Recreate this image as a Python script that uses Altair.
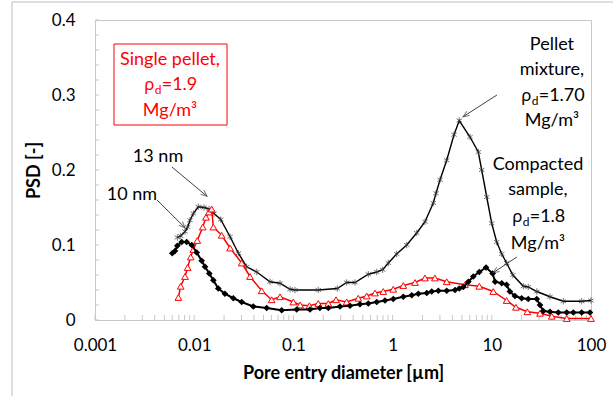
import math
import altair as alt
import pandas as pd

W, H = 496, 300
XMIN, XMAX = 0.001, 100
YMAX = 0.4
FONT = "Lato"

# ---- data ----
# Pellet mixture, rho_d = 1.70 Mg/m3 (black line, asterisks)
pm_d = [0.00676, 0.00731, 0.00808, 0.00859, 0.00907, 0.00980, 0.0110, 0.01256, 0.0141, 0.01585,
        0.0185, 0.0230, 0.0279, 0.0338, 0.0427, 0.0581, 0.0733, 0.0925, 0.1038, 0.178,
        0.277, 0.344, 0.418, 0.569, 0.692, 0.794, 0.906, 1.099, 1.387, 1.750,
        2.123, 2.57, 2.74, 3.01, 3.51, 4.16, 4.70, 6.03, 7.31, 7.91,
        8.89, 9.98, 11.2, 12.6, 14.1, 16.3, 20.8, 23.3, 28.4, 38.6,
        52.6, 80.5, 100]
pm_v = [0.110, 0.112, 0.118, 0.124, 0.133, 0.142, 0.151, 0.150, 0.148, 0.142,
        0.134, 0.111, 0.089, 0.071, 0.064, 0.051, 0.049, 0.041, 0.040, 0.040,
        0.042, 0.050, 0.050, 0.061, 0.064, 0.067, 0.076, 0.088, 0.100, 0.116,
        0.131, 0.156, 0.169, 0.187, 0.213, 0.247, 0.266, 0.244, 0.224, 0.200,
        0.164, 0.129, 0.104, 0.088, 0.076, 0.060, 0.045, 0.044, 0.038, 0.031,
        0.025, 0.025, 0.026]

# Single pellet, rho_d = 1.9 Mg/m3 (red line, open triangles)
sp_d = [0.00692, 0.00731, 0.00808, 0.00859, 0.00922, 0.00980, 0.01074, 0.0122, 0.01315, 0.0141,
        0.0150, 0.0156, 0.0189, 0.0230, 0.0301, 0.0365, 0.0479, 0.0604, 0.0733, 0.0998,
        0.117, 0.145, 0.178, 0.225, 0.269, 0.344, 0.451, 0.548, 0.665, 0.806,
        1.016, 1.282, 1.682, 2.12, 2.67, 3.51, 5.37, 7.48, 10.35, 14.1,
        17.5, 22.8, 30.6, 40.2, 56.9, 100]
sp_v = [0.030, 0.045, 0.058, 0.070, 0.084, 0.094, 0.106, 0.124, 0.137, 0.144,
        0.148, 0.124, 0.113, 0.096, 0.076, 0.058, 0.039, 0.027, 0.031, 0.024,
        0.020, 0.019, 0.022, 0.022, 0.027, 0.024, 0.029, 0.032, 0.036, 0.038,
        0.041, 0.046, 0.050, 0.056, 0.056, 0.051, 0.047, 0.045, 0.038, 0.026,
        0.017, 0.011, 0.009, 0.005, 0.002, 0.002]

# Compacted sample, rho_d = 1.8 Mg/m3 (thick black line, diamonds)
cs_d = [0.00601, 0.00640, 0.00676, 0.00748, 0.00840, 0.00944, 0.0106, 0.0119, 0.01285, 0.0142,
        0.0156, 0.0175, 0.0204, 0.0248, 0.0301, 0.0394, 0.0538, 0.0762, 0.108, 0.147,
        0.185, 0.225, 0.295, 0.372, 0.469, 0.569, 0.692, 0.838, 1.016, 1.282,
        1.559, 1.816, 2.21, 2.48, 2.89, 3.51, 4.26, 4.70, 5.16, 5.80,
        6.51, 7.48, 8.75, 10.2, 10.8, 12.6, 14.1, 15.2, 17.1, 20.0,
        23.3, 28.4, 30.6, 33.0, 38.6, 46.8, 56.9, 66.4, 80.5, 97.7]
cs_v = [0.089, 0.092, 0.099, 0.104, 0.104, 0.100, 0.090, 0.079, 0.071, 0.062,
        0.053, 0.042, 0.035, 0.029, 0.024, 0.018, 0.016, 0.013, 0.014, 0.014,
        0.016, 0.016, 0.018, 0.019, 0.021, 0.022, 0.024, 0.026, 0.028, 0.031,
        0.033, 0.035, 0.036, 0.038, 0.039, 0.039, 0.040, 0.042, 0.044, 0.051,
        0.058, 0.064, 0.070, 0.062, 0.051, 0.049, 0.047, 0.038, 0.032, 0.029,
        0.028, 0.028, 0.020, 0.012, 0.011, 0.010, 0.010, 0.010, 0.010, 0.010]

x_ticks = [0.001, 0.01, 0.1, 1, 10, 100]
y_ticks = [0, 0.1, 0.2, 0.3, 0.4]

# ---- helpers (layout) ----
PPD = W / math.log10(XMAX / XMIN)
PPV = H / YMAX


def xpx(d):
    return (math.log10(d) - math.log10(XMIN)) * PPD


def ypx(v):
    return H - v * PPV


def sx(d, px):
    return d * 10 ** (px / PPD)


def sy(v, px):
    return v - px / PPV


xs = alt.Scale(type="log", domain=[XMIN, XMAX])
ys = alt.Scale(domain=[0, YMAX])

X_AXIS = alt.Axis(
    values=x_ticks, format="~g", ticks=False, grid=False, labelFlush=False,
    domainColor="#c8c8c8", labelFontSize=17, labelFont=FONT, labelColor="black",
    labelPadding=17, title="Pore entry diameter [µm]", titleFont=FONT,
    titleFontSize=18, titleFontWeight="bold", titleColor="black", titlePadding=11)
Y_AXIS = alt.Axis(
    values=y_ticks, format="~g", ticks=False, grid=False,
    domainColor="#c8c8c8", labelFontSize=17, labelFont=FONT, labelColor="black",
    labelPadding=20, title="PSD [-]", titleFont=FONT, titleFontSize=18,
    titleFontWeight="bold", titleColor="black", titlePadding=8)


def XF(field="d"):
    return alt.X(f"{field}:Q", scale=xs, axis=X_AXIS)


def YF(field="v"):
    return alt.Y(f"{field}:Q", scale=ys, axis=Y_AXIS)


pm = pd.DataFrame({"d": pm_d, "v": pm_v})
sp = pd.DataFrame({"d": sp_d, "v": sp_v})
cs = pd.DataFrame({"d": cs_d, "v": cs_v})

# inner ticks
minor_y = pd.DataFrame({"v": [round(i * 0.02, 2) for i in range(0, 21)]})
minor_x = pd.DataFrame({"d": [m * 10 ** k for k in range(-3, 2) for m in range(1, 10)] + [100]})
tick_y = alt.Chart(minor_y).mark_rule(color="#c8c8c8").encode(
    y=YF(), x=alt.value(0), x2=alt.value(4))
tick_x = alt.Chart(minor_x).mark_rule(color="#c8c8c8").encode(
    x=XF(), y=alt.value(H), y2=alt.value(H - 5))

STAR = "M0,-1L0,1M-0.85,-0.55L0.85,0.55M-0.85,0.55L0.85,-0.55"

l_pm = alt.Chart(pm).mark_line(color="black", strokeWidth=1.4).encode(x=XF(), y=YF())
p_pm = alt.Chart(pm).mark_point(shape=STAR, size=40, color="#3a3a3a", strokeWidth=1,
                                filled=False).encode(x=XF(), y=YF())
l_sp = alt.Chart(sp).mark_line(color="#ff0000", strokeWidth=1.5).encode(x=XF(), y=YF())
p_sp = alt.Chart(sp).mark_point(shape="triangle-up", size=45, color="#ff0000",
                                strokeWidth=1, filled=False, fill="white",
                                fillOpacity=1).encode(x=XF(), y=YF())
l_cs = alt.Chart(cs).mark_line(color="black", strokeWidth=2).encode(x=XF(), y=YF())
p_cs = alt.Chart(cs).mark_point(shape="diamond", size=45, color="black",
                                filled=True, opacity=1).encode(x=XF(), y=YF())

# ---- annotations ----
box = alt.Chart(pd.DataFrame({"d": [0.001554], "d2": [0.02143], "v": [0.368], "v2": [0.260]})).mark_rect(
    fill="white", stroke="#ff0000", strokeWidth=1).encode(
    x=XF(), x2="d2:Q", y=YF(), y2="v2:Q")

ann_text = ["13 nm", "10 nm", "Single pellet,", "Mg/m³", "Pellet", "mixture,", "Mg/m³",
            "Compacted", "sample,", "Mg/m³"]
ann_d = [0.00432, 0.00236, 0.0057, 0.0057, 40.4, 40.4, 40.4, 29.2, 29.2, 29.2]
ann_v = [0.217, 0.167, 0.347, 0.279, 0.367, 0.333, 0.265, 0.207, 0.173, 0.102]
ann_c = ["black", "black", "#ff0000", "#ff0000", "black", "black", "black", "black", "black", "black"]
ann = pd.DataFrame({"t": ann_text, "d": ann_d, "v": ann_v, "c": ann_c})
t_ann = alt.Chart(ann).mark_text(font=FONT, fontSize=18, align="center", baseline="middle").encode(
    x=XF(), y=YF(), text="t:N", color=alt.Color("c:N", scale=None))

# rho_d lines: rho + subscript d + rest
rho_rest = ["=1.9", "=1.70", "=1.8"]
rho_d = [0.0057, 40.4, 29.2]
rho_v = [0.313, 0.299, 0.138]
rho_c = ["#ff0000", "black", "black"]
W_RHO, W_SUB = 10.5, 7.0
W_REST = {"=1.9": 34.0, "=1.70": 44.0, "=1.8": 34.0}
rows_rho, rows_sub, rows_rest = [], [], []
for t, d, v, c in zip(rho_rest, rho_d, rho_v, rho_c):
    total = W_RHO + W_SUB + W_REST[t]
    start = -total / 2
    rows_rho.append({"t": "ρ", "d": sx(d, start), "v": v, "c": c})
    rows_sub.append({"t": "d", "d": sx(d, start + W_RHO), "v": sy(v, 5), "c": c})
    rows_rest.append({"t": t, "d": sx(d, start + W_RHO + W_SUB), "v": v, "c": c})
t_rho = alt.Chart(pd.DataFrame(rows_rho)).mark_text(font="Noto Sans", fontSize=17, align="left",
                                                     baseline="middle").encode(
    x=XF(), y=YF(), text="t:N", color=alt.Color("c:N", scale=None))
t_sub = alt.Chart(pd.DataFrame(rows_sub)).mark_text(font=FONT, fontSize=12, align="left",
                                                     baseline="middle").encode(
    x=XF(), y=YF(), text="t:N", color=alt.Color("c:N", scale=None))
t_rest = alt.Chart(pd.DataFrame(rows_rest)).mark_text(font=FONT, fontSize=18, align="left",
                                                       baseline="middle").encode(
    x=XF(), y=YF(), text="t:N", color=alt.Color("c:N", scale=None))

# arrows (start -> end, in data units)
arr_d0 = [0.00597, 0.00422, 11.27, 17.9]
arr_v0 = [0.204, 0.160, 0.300, 0.084]
arr_d1 = [0.01346, 0.00808, 5.13, 10.3]
arr_v1 = [0.165, 0.123, 0.271, 0.063]
ang = []
for a0, b0, a1, b1 in zip(arr_d0, arr_v0, arr_d1, arr_v1):
    dx = xpx(a1) - xpx(a0)
    dy = ypx(b1) - ypx(b0)
    ang.append(math.degrees(math.atan2(dx, -dy)) % 360)
arr = pd.DataFrame({"d": arr_d0, "v": arr_v0, "d2": arr_d1, "v2": arr_v1, "a": ang})
a_line = alt.Chart(arr).mark_rule(color="#404040", strokeWidth=1).encode(
    x=XF(), y=YF(), x2="d2:Q", y2="v2:Q")
HEAD = "M-0.55,1.3L0,0L0.55,1.3"
a_head = alt.Chart(arr).mark_point(shape=HEAD, size=90, color="#404040", strokeWidth=1,
                                   filled=False).encode(
    x=XF("d2"), y=YF("v2"), angle=alt.Angle("a:Q", scale=None))

# outer frame
frame = alt.Chart(pd.DataFrame({"a": [0]})).mark_rect(
    fill=None, fillOpacity=0, stroke="#bdbdbd", strokeWidth=1).encode(
    x=alt.value(-83), x2=alt.value(W + 40), y=alt.value(-18), y2=alt.value(H + 90))

chart = alt.layer(
    tick_x, tick_y,
    l_pm, p_pm, l_sp, p_sp, l_cs, p_cs,
    box, a_line, a_head, t_ann, t_rho, t_sub, t_rest, frame,
).properties(
    width=W, height=H,
    autosize=alt.AutoSizeParams(type="none"),
    padding={"left": 95, "top": 20, "right": 22, "bottom": 76},
    background="white",
).configure_view(stroke="#c8c8c8", strokeWidth=1)

chart.save("out.html", embed_options={"renderer": "svg", "actions": False})
